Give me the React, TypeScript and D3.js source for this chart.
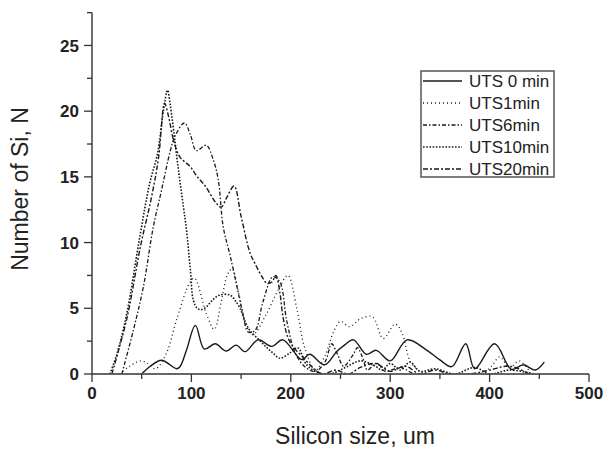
import React from "react";
import * as d3 from "d3";

const xTicks = [0, 100, 200, 300, 400, 500];
const yTicks = [0, 5, 10, 15, 20, 25];
const xMinor = [50, 150, 250, 350, 450];
const yMinor = [2.5, 7.5, 12.5, 17.5, 22.5, 27.5];

const seriesNames = ["UTS 0 min", "UTS1min", "UTS6min", "UTS10min", "UTS20min"];

const uts0X = [50, 58, 70, 85, 88.5, 95, 104, 113, 124, 135, 145, 154, 167, 181, 192, 211, 219, 234, 246, 254, 263, 276, 286, 300, 317, 337, 350, 362, 376, 385, 405, 422, 434, 446, 455];
const uts0Y = [0, 0.55, 1.05, 0.4, 0.55, 1.8, 3.7, 1.9, 2.3, 1.75, 2.2, 1.7, 2.6, 2.1, 2.6, 1.1, 1.5, 0.7, 1.7, 2.2, 2.6, 1.5, 1.8, 1.0, 2.6, 1.8, 1.07, 0.56, 2.3, 0.4, 2.3, 0.35, 0.7, 0.3, 0.9];

const uts1X = [28, 36, 45, 50, 56, 64, 75, 85, 98, 103, 115, 123, 130, 136, 141, 148, 156, 162, 175, 188, 197, 206, 214, 225, 235, 243, 250, 259, 270, 280, 284, 293, 305, 312, 320, 330, 345, 390, 402, 410, 420, 430, 440];
const uts1Y = [0, 0.5, 0.9, 1.0, 0.8, 0.4, 1.6, 4.1, 6.9, 7.3, 4.6, 3.4, 5.5, 7.5, 8.0, 6.0, 3.5, 3.0, 4.5, 6.5, 7.5, 5.0, 2.0, 0.3, 1.5, 3.2, 4.0, 3.6, 4.2, 4.4, 4.2, 2.7, 3.8, 3.1, 1.0, 0.2, 0, 0, 0.6, 1.3, 0.5, 1.0, 0.2];

const uts6X = [30, 41.5, 51.6, 61.7, 70, 78.5, 83.5, 93, 99, 105, 115, 122, 127, 132, 139, 146, 152, 157, 164, 172, 182, 189, 196, 205, 215, 225, 235, 241, 247, 253, 263, 267, 272, 277, 282, 287, 295, 310, 325, 350];
const uts6Y = [0, 3.3, 6.6, 11.2, 14, 16.9, 18.1, 19.1, 18.2, 17.0, 17.4, 16.3, 14.8, 11.2, 9.0, 6.6, 4.5, 3.2, 3.3, 5.5, 7.4, 7.0, 4.0, 1.5, 0.5, 0.2, 1.0, 2.3, 1.5, 0.6, 1.5, 2.0, 1.3, 0.3, 0.6, 0.8, 0.2, 0.5, 0, 0];

const uts10X = [18, 25, 35, 48, 58, 66, 72, 76, 78.5, 82, 87, 92, 95, 99, 102, 106, 110, 115, 121, 128, 139, 144, 149, 154, 159, 168, 176, 182, 189, 199, 207, 216, 229, 240, 255, 270, 285, 292, 300, 310, 320, 330, 345, 365, 385, 400, 420, 445];
const uts10Y = [0, 1.5, 4.6, 10.4, 14.5, 16.8, 20.1, 21.6, 20.6, 18.6, 15.5, 12.7, 11, 7.9, 5.6, 5.0, 4.9, 5.1, 5.6, 6.0, 6.0, 5.6, 5.0, 4.0, 3.3, 2.6, 2.0, 1.6, 1.2, 1.6, 2.0, 0.7, 0.05, 0, 0.5, 1.0, 0.6, 0.3, 0.8, 0.3, 0.9, 0.2, 0.4, 0, 0.5, 0, 0.3, 0];

const uts20X = [20, 35, 49, 60, 67, 73, 77, 82, 88.5, 98.6, 106, 114, 125, 130, 136, 143, 150, 159, 164, 171, 176, 181, 185, 189, 192, 197, 202, 212, 222, 232, 245, 258, 270, 285, 300, 315, 330, 345, 360, 380, 400, 420, 440];
const uts20Y = [0, 4.2, 9.8, 13.5, 16.5, 20.6, 19.6, 17.8, 16.5, 15.8, 15.0, 14.3, 13.0, 12.7, 13.5, 14.3, 12.0, 9.2, 8.4, 7.4, 6.9, 7.0, 7.5, 6.2, 4.4, 2.8, 2.1, 1.3, 0.5, 0, 0.3, 0, 0.5, 0.8, 0.2, 0.6, 0, 0.3, 0, 0, 0.3, 0.6, 0];

const seriesXs = [uts0X, uts1X, uts6X, uts10X, uts20X];
const seriesYs = [uts0Y, uts1Y, uts6Y, uts10Y, uts20Y];
const dashes = ["", "1,3", "4,2,1.5,2", "1.6,1.6", "5,2,2,2"];
const widths = [1.4, 1.3, 1.3, 1.6, 1.4];

export default function App() {
  const W = 605, H = 450;
  const x = d3.scaleLinear().domain([0, 500]).range([92, 589]);
  const y = d3.scaleLinear().domain([0, 27.5]).range([374, 12.6]);
  const line = d3
    .line<[number, number]>()
    .x((d) => x(d[0]))
    .y((d) => y(d[1]))
    .curve(d3.curveCatmullRom.alpha(0.5));

  const axisColor = "#333";
  const font = "'Liberation Sans', Arial, sans-serif";
  const legX = 421, legY = 71, legW = 133, legH = 106;

  return (
    <svg width={W} height={H} style={{ position: "absolute", left: 0, top: 0, background: "#fff" }}>
      <defs>
        <clipPath id="plotClip">
          <rect x={x(0)} y={0} width={x(500) - x(0) + 10} height={y(0) - 0.5} />
        </clipPath>
      </defs>
      <rect x={0} y={0} width={W} height={H} fill="#fff" />
      <g clipPath="url(#plotClip)">
        {seriesXs.map((xs, i) => {
          const pts = xs.map((v, j) => [v, seriesYs[i][j]] as [number, number]);
          return (
            <path
              key={i}
              d={line(pts) || ""}
              fill="none"
              stroke="#1a1a1a"
              strokeWidth={widths[i]}
              strokeDasharray={dashes[i] || undefined}
            />
          );
        })}
      </g>
      <line x1={x(0)} x2={x(0)} y1={y(27.5)} y2={y(0)} stroke={axisColor} strokeWidth={1.4} />
      <line x1={x(0)} x2={x(500)} y1={y(0)} y2={y(0)} stroke={axisColor} strokeWidth={1.4} />
      {yTicks.map((t) => (
        <g key={"yt" + t}>
          <line x1={x(0) - 8} x2={x(0)} y1={y(t)} y2={y(t)} stroke={axisColor} strokeWidth={1.3} />
          <text x={79} y={y(t)} dy="0.36em" textAnchor="end" fontFamily={font} fontWeight="bold" fontSize={17} fill="#222">
            {t}
          </text>
        </g>
      ))}
      {yMinor.map((t) => (
        <line key={"ym" + t} x1={x(0) - 5} x2={x(0)} y1={y(t)} y2={y(t)} stroke={axisColor} strokeWidth={1.3} />
      ))}
      {xTicks.map((t) => (
        <g key={"xt" + t}>
          <line x1={x(t)} x2={x(t)} y1={y(0)} y2={y(0) + 8} stroke={axisColor} strokeWidth={1.3} />
          <text x={x(t)} y={399} textAnchor="middle" fontFamily={font} fontWeight="bold" fontSize={17} fill="#222">
            {t}
          </text>
        </g>
      ))}
      {xMinor.map((t) => (
        <line key={"xm" + t} x1={x(t)} x2={x(t)} y1={y(0)} y2={y(0) + 5} stroke={axisColor} strokeWidth={1.3} />
      ))}
      <text x={355} y={444} textAnchor="middle" fontFamily={font} fontSize={23} fill="#222">
        Silicon size, um
      </text>
      <text transform={`translate(28,189) rotate(-90)`} textAnchor="middle" fontFamily={font} fontSize={23} fill="#222">
        Number of Si, N
      </text>
      <rect x={legX} y={legY} width={legW} height={legH} fill="#fff" stroke="#555" strokeWidth={1.5} />
      {seriesNames.map((n, i) => {
        const cy = 81 + i * 22;
        return (
          <g key={n}>
            <line x1={423} x2={462} y1={cy} y2={cy} stroke="#1a1a1a" strokeWidth={widths[i]} strokeDasharray={dashes[i] || undefined} />
            <text x={469} y={cy} dy="0.36em" fontFamily={font} fontSize={17} fill="#222">
              {n}
            </text>
          </g>
        );
      })}
    </svg>
  );
}
